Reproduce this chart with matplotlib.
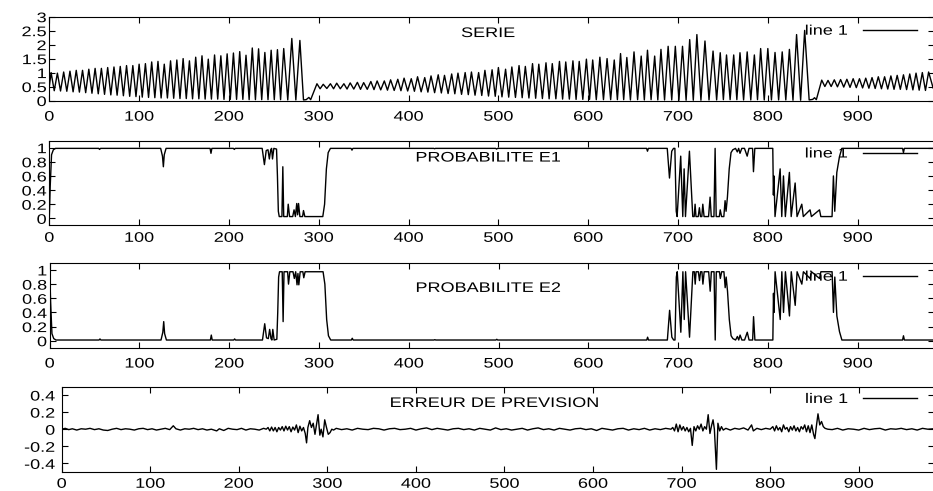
import numpy as np
import matplotlib
matplotlib.use("Agg")
import matplotlib.pyplot as plt
from matplotlib.patheffects import AbstractPathEffect
from matplotlib.transforms import Affine2D
from matplotlib.ticker import FormatStrFormatter

plt.rcParams["font.family"] = ["Liberation Sans", "DejaVu Sans"]
plt.rcParams["font.size"] = 10

# ---------------- SERIE (peaks / troughs) ----------------
serie_head = [(0, 0.5)]
a_peaks = [(2, 1.0), (9, 0.98), (16, 1.02), (23, 1.05), (30, 1.08), (37, 1.08), (44, 1.12), (51, 1.15),
           (58, 1.15), (65, 1.18), (72, 1.2), (79, 1.22), (86, 1.25), (93, 1.25), (100, 1.3), (107, 1.32),
           (114, 1.38), (121, 1.4), (128, 1.3), (135, 1.42), (142, 1.45), (149, 1.5), (156, 1.42), (163, 1.55),
           (170, 1.6), (177, 1.48), (184, 1.63), (191, 1.6), (198, 1.67), (205, 1.7), (212, 1.75), (219, 1.62),
           (226, 1.88), (233, 1.85), (240, 1.72), (247, 1.8), (254, 1.82), (261, 1.86), (270, 2.22), (279, 2.15)]
a_troughs = [0.35, 0.34, 0.33, 0.31, 0.3, 0.28, 0.26, 0.24, 0.22, 0.2,
             0.19, 0.17, 0.15, 0.14, 0.12, 0.11, 0.1, 0.09, 0.09, 0.08,
             0.07, 0.07, 0.06, 0.06, 0.05, 0.05, 0.05, 0.04, 0.04, 0.04,
             0.04, 0.03, 0.03, 0.03, 0.03, 0.03, 0.03, 0.02, 0.02]
a_tail = [(283, 0.02), (286, 0.03), (289, 0.11), (291, 0.03)]
b_peaks = [(298, 0.6), (305, 0.58), (313, 0.6), (320, 0.62), (328, 0.6), (335, 0.63), (343, 0.65), (350, 0.64),
           (358, 0.68), (365, 0.7), (373, 0.7), (380, 0.74), (388, 0.76), (395, 0.8), (403, 0.78), (410, 0.85),
           (418, 0.82), (425, 0.88), (433, 0.92), (440, 0.9), (448, 0.95), (455, 0.98), (463, 1.0), (470, 1.02),
           (478, 1.0), (485, 1.08), (493, 1.1), (500, 1.18), (508, 1.12), (515, 1.2), (523, 1.25), (530, 1.22),
           (538, 1.32), (545, 1.3), (553, 1.35), (560, 1.32), (568, 1.4), (575, 1.38), (583, 1.42), (590, 1.4),
           (598, 1.48), (605, 1.45), (613, 1.55), (621, 1.5),
           (629, 1.45), (636, 1.68), (643, 1.54), (651, 1.74), (659, 1.59), (666, 1.8), (674, 1.59), (681, 1.83),
           (689, 1.94), (697, 1.94), (705, 1.94), (713, 2.18), (721, 2.36), (730, 2.13), (739, 1.77), (747, 1.71),
           (754, 1.63), (762, 1.63), (769, 1.71), (777, 1.74), (785, 1.63), (792, 1.86), (800, 1.86), (808, 1.72),
           (816, 1.74), (824, 1.83), (832, 2.36), (841, 2.51)]
b_troughs = [0.42, 0.43, 0.42, 0.42, 0.41, 0.41, 0.4, 0.4, 0.39, 0.38,
             0.37, 0.36, 0.35, 0.34, 0.33, 0.31, 0.3, 0.28, 0.27, 0.25,
             0.24, 0.22, 0.21, 0.19, 0.18, 0.16, 0.15, 0.13, 0.12, 0.11,
             0.1, 0.09, 0.08, 0.07, 0.06, 0.06, 0.05, 0.05, 0.04, 0.04,
             0.04, 0.03, 0.03, 0.03,
             0.03, 0.03, 0.02, 0.03, 0.02, 0.03, 0.02, 0.02, 0.02, 0.01,
             0.01, 0.01, 0.01, 0.02, 0.02, 0.03, 0.03, 0.03, 0.02, 0.02,
             0.03, 0.02, 0.02, 0.02, 0.02, 0.01, 0.01]
b_tail = [(846, 0.02), (850, 0.04), (852, 0.1), (854, 0.03)]
c_peaks = [(860, 0.73), (867, 0.72), (874, 0.74), (881, 0.75), (888, 0.76), (895, 0.78), (902, 0.78),
           (909, 0.8), (916, 0.82), (923, 0.85), (930, 0.85), (937, 0.88), (944, 0.9), (951, 0.92),
           (958, 0.95), (965, 0.98), (972, 1.0), (979, 1.02)]
c_troughs = [0.5, 0.5, 0.49, 0.48, 0.47, 0.46, 0.45, 0.44, 0.43, 0.42, 0.41, 0.4, 0.4, 0.39, 0.38, 0.37, 0.36]
serie_end = [(984, 0.45)]

# ---------------- PROBABILITE E1 (breakpoints) ----------------
e1_pts = [(0, 0.0), (1, 0.45), (2.5, 0.9), (4.5, 0.97), (7, 0.99), (55, 0.99), (56, 0.975), (57, 0.99),
          (124, 0.99), (126, 0.88), (127, 0.73), (128, 0.9), (130, 0.99), (179, 0.99), (180, 0.92), (181, 0.99),
          (205, 0.99), (206, 0.975), (207, 0.99),
          (237, 0.99), (239.5, 0.76), (241.5, 0.96), (243.5, 0.97), (245, 0.84), (246.5, 0.97), (247.5, 0.99),
          (248.5, 0.84), (250, 0.99), (253, 0.98), (254, 0.6), (255, 0.1), (256, 0.025), (259, 0.025),
          (260, 0.73), (261, 0.025), (265, 0.025), (266, 0.2), (267.5, 0.025), (271, 0.025), (272.5, 0.12),
          (274, 0.025), (275.5, 0.21), (276.5, 0.05), (277.5, 0.21), (279, 0.025), (282, 0.025), (283, 0.11),
          (284.5, 0.025), (304.5, 0.025), (306.5, 0.2), (308.5, 0.7), (310.5, 0.93), (313, 0.99),
          (336, 0.99), (337, 0.965), (338, 0.99), (428, 0.99), (429, 0.985), (430, 0.99),
          (497, 0.99), (498, 0.98), (499, 0.99), (665, 0.99), (666, 0.95), (667, 0.99),
          (688, 0.99), (690.5, 0.57), (693, 0.95), (695, 0.99), (696.5, 0.99), (698, 0.1), (699, 0.025),
          (703, 0.88), (705.3, 0.025), (706.8, 0.7), (708.3, 0.025), (712.7, 0.95), (716.4, 0.025),
          (718, 0.025), (719, 0.2), (720, 0.025), (722.5, 0.025), (723.8, 0.15), (725, 0.025),
          (726.5, 0.025), (727.6, 0.2), (729, 0.025), (734, 0.025), (735.7, 0.3), (737, 0.025),
          (740, 0.025), (741.3, 0.99), (742.5, 0.025), (746, 0.025), (747, 0.12), (748.5, 0.025),
          (751, 0.025), (752.4, 0.25), (753.5, 0.1), (755, 0.3), (757, 0.7), (759, 0.93),
          (761, 0.97), (764, 0.99), (766, 0.94), (767.5, 0.99), (769, 0.92), (771, 0.99), (774, 0.99),
          (777, 0.88), (779, 0.99), (783, 0.99), (784, 0.66), (785.5, 0.99),
          (805.5, 0.99), (806.2, 0.33), (806.8, 0.6), (808, 0.025), (813.7, 0.7), (815.5, 0.025),
          (817.4, 0.6), (819.5, 0.025), (824, 0.65), (826, 0.025), (830.4, 0.5), (832.5, 0.025),
          (837.8, 0.2), (839.5, 0.025), (847, 0.12), (848.5, 0.025), (857.5, 0.12), (859, 0.025),
          (871.5, 0.025), (873, 0.6), (874.5, 0.1), (876.8, 0.65), (879.7, 0.87), (882.4, 0.99),
          (950, 0.99), (951, 0.93), (952, 0.99), (985, 0.99)]

# ---------------- ERREUR DE PREVISION ----------------
err_quiet_1 = [(0, 0.0), (4, 0.01), (8, -0.005), (12, 0.005), (17, -0.01), (22, 0.005), (27, 0.0), (32, 0.01),
               (37, -0.005), (42, 0.005), (47, -0.01), (52, -0.015), (57, 0.0), (62, 0.01), (67, -0.005),
               (72, 0.005), (77, 0.0), (82, -0.01), (87, 0.005), (92, 0.01), (97, -0.005), (102, 0.005),
               (107, -0.01), (112, 0.0), (117, 0.01), (122, -0.005), (126, 0.04), (129, 0.005), (134, -0.01),
               (139, 0.005), (144, 0.0), (149, 0.01), (154, -0.005), (159, 0.005), (164, -0.01), (169, 0.0),
               (175, -0.02), (178, 0.005), (183, -0.015), (188, 0.01), (193, 0.0), (198, -0.005), (203, 0.01),
               (208, -0.01), (213, 0.005), (218, 0.0), (223, -0.01), (228, 0.01)]
err_burst_1 = [(231, 0.0), (233, 0.02), (235, -0.02), (237, 0.025), (239, -0.02), (241, 0.02), (243, -0.03),
               (245, 0.02), (247, -0.01), (249, 0.03), (251, -0.02), (253, 0.035), (255, -0.01), (257, 0.03),
               (259, -0.03), (261, 0.025), (263, -0.01), (265, 0.05), (267, -0.04), (269, 0.035), (271, -0.02),
               (273, 0.02), (275, -0.05), (276.5, -0.16), (278, 0.02), (280, 0.1), (282, 0.02), (284, 0.07),
               (286, -0.06), (289.5, 0.17), (291.5, -0.07), (293, 0.0), (295, -0.09), (297, 0.11), (299, 0.02),
               (301, -0.06), (303, -0.04), (305, 0.0), (307, -0.01)]
err_quiet_2 = [(310, 0.01), (316, -0.005), (322, 0.005), (328, -0.01), (334, 0.01), (340, 0.0), (346, -0.005),
               (352, 0.01), (358, 0.005), (364, -0.01), (370, 0.005), (376, 0.01), (382, -0.005), (388, 0.0),
               (394, 0.01), (400, -0.01), (406, 0.005), (412, 0.015), (418, -0.005), (424, 0.01), (430, 0.0),
               (436, -0.01), (442, 0.005), (448, 0.01), (454, -0.005), (460, 0.005), (466, -0.01), (472, 0.01),
               (478, 0.0), (484, -0.01), (490, 0.015), (496, -0.005), (502, 0.005), (508, -0.01), (514, 0.0),
               (520, 0.01), (526, -0.01), (532, 0.005), (538, 0.015), (544, -0.005), (550, 0.005), (556, -0.01),
               (562, 0.01), (568, 0.0), (574, -0.01), (580, 0.005), (586, 0.01), (592, -0.005), (598, 0.005),
               (604, -0.015), (610, 0.01), (616, 0.0), (622, -0.01), (628, 0.005), (634, 0.01), (640, -0.01),
               (646, 0.005), (652, -0.005), (658, 0.01), (664, -0.01), (670, 0.005), (676, -0.005), (682, 0.01)]
err_burst_2 = [(688, 0.0), (690, 0.02), (692, -0.02), (694, 0.06), (696, -0.03), (698, 0.05), (700, -0.01),
               (702, 0.03), (704, -0.02), (706, 0.02), (708, -0.03), (710, 0.01), (712, -0.19), (714, 0.03),
               (716, -0.02), (718, 0.04), (720, 0.0), (722, 0.06), (724, -0.02), (726, 0.03), (728, 0.0),
               (730, 0.17), (732, -0.05), (734, 0.05), (735.5, 0.11), (737, 0.0), (739.3, -0.47), (741, 0.07),
               (743, -0.02), (745, 0.03), (747, -0.01), (750, 0.01)]
err_quiet_3 = [(755, -0.01), (760, 0.01), (765, 0.0), (770, 0.015), (775, -0.01), (779, 0.05), (781, -0.02),
               (785, 0.01), (790, -0.005), (795, 0.01)]
err_burst_3 = [(800, 0.0), (803, 0.03), (805, -0.02), (807, 0.04), (809, -0.01), (811, 0.02), (813, -0.03),
               (815, 0.05), (817, 0.0), (819, 0.02), (821, -0.03), (823, 0.03), (825, -0.01), (827, 0.04),
               (829, -0.02), (831, 0.02), (833, -0.03), (835, 0.03), (837, 0.0), (839, 0.05), (841, -0.03),
               (843, 0.04), (845, -0.04), (847, 0.05), (849, -0.06), (850.5, -0.11), (852, 0.02), (854, 0.18),
               (856, 0.05), (858, 0.09), (860, 0.03), (862, 0.01), (865, 0.0)]
err_quiet_4 = [(870, -0.005), (876, 0.01), (882, -0.01), (888, 0.005), (894, 0.0), (900, -0.01), (906, 0.01),
               (912, -0.005), (918, 0.005), (924, 0.01), (930, -0.01), (936, 0.005), (942, 0.0), (948, 0.01),
               (954, -0.005), (960, 0.005), (966, -0.01), (972, 0.01), (978, 0.0), (985, 0.005)]

x_ticks = [0, 100, 200, 300, 400, 500, 600, 700, 800, 900]
serie_ticks = [0, 0.5, 1, 1.5, 2, 2.5, 3]
prob_ticks = [0, 0.2, 0.4, 0.6, 0.8, 1]
err_ticks = [-0.4, -0.2, 0, 0.2, 0.4]
x_max = 985


def zigzag(peaks, troughs):
    assert len(troughs) == len(peaks) - 1
    px = np.array([p[0] for p in peaks], float)
    py = np.array([p[1] for p in peaks], float)
    x = np.empty(2 * len(px) - 1)
    y = np.empty_like(x)
    x[0::2], y[0::2] = px, py
    x[1::2], y[1::2] = (px[:-1] + px[1:]) / 2, troughs
    return list(zip(x, y))


def xy(pts):
    a = np.array(pts, float)
    return a[:, 0], a[:, 1]


serie_x, serie_y = xy(serie_head + zigzag(a_peaks, a_troughs) + a_tail
                      + zigzag(b_peaks, b_troughs) + b_tail
                      + zigzag(c_peaks, c_troughs) + serie_end)
e1_x, e1_y = xy(e1_pts)
e2_x, e2_y = e1_x, 1.0 - e1_y          # two-state model: P(E2) is the complement of P(E1)
err_x, err_y = xy(err_quiet_1 + err_burst_1 + err_quiet_2 + err_burst_2
                  + err_quiet_3 + err_burst_3 + err_quiet_4)


class Widen(AbstractPathEffect):
    """gnuplot's font comes out wide; stretch glyphs horizontally about an anchor."""
    def __init__(self, sx=1.3, anchor=0.5):
        super().__init__()
        self.sx, self.anchor = sx, anchor

    def draw_path(self, renderer, gc, tpath, affine, rgbFace=None):
        ext = tpath.get_extents(affine)
        cx = ext.x0 + self.anchor * ext.width
        aff = affine + Affine2D().translate(-cx, 0).scale(self.sx, 1).translate(cx, 0)
        renderer.draw_path(gc, tpath, aff, rgbFace)


W, H = 933, 491
SX = 1.3


def box(left, right, top, bottom):
    return [left / W, 1 - bottom / H, (right - left) / W, (bottom - top) / H]


fig = plt.figure(figsize=(W / 100, H / 100), dpi=100, facecolor="white")

panels = [
    dict(rect=box(49.3, 934, 16.7, 100.5), x=serie_x, y=serie_y, ylim=(0, 3), yt=serie_ticks,
         title="SERIE", ty=0.805, ly=0.833, xpad=6.6, ypad=2.0),
    dict(rect=box(49.3, 934, 140.6, 225.4), x=e1_x, y=e1_y, ylim=(-0.1, 1.1), yt=prob_ticks,
         title="PROBABILITE E1", ty=0.80, ly=0.848, xpad=3.9, ypad=2.0),
    dict(rect=box(49.7, 934, 262.9, 347.8), x=e2_x, y=e2_y, ylim=(-0.1, 1.1), yt=prob_ticks,
         title="PROBABILITE E2", ty=0.705, ly=0.838, xpad=6.3, ypad=2.0),
    dict(rect=box(61.7, 934, 386.5, 471.9), x=err_x, y=err_y, ylim=(-0.5, 0.5), yt=err_ticks,
         title="ERREUR DE PREVISION", ty=0.807, ly=0.854, xpad=3.5, ypad=4.8),
]

for p in panels:
    ax = fig.add_axes(p["rect"])
    line, = ax.plot(p["x"], p["y"], color="black", lw=1.0)
    ax.set_xlim(0, x_max)
    ax.set_ylim(*p["ylim"])
    ax.set_xticks(x_ticks)
    ax.set_yticks(p["yt"])
    ax.yaxis.set_major_formatter(FormatStrFormatter("%g"))
    for sp in ax.spines.values():
        sp.set_linewidth(0.8)
    ax.tick_params(direction="in", length=4.5, width=0.8, top=True, right=True,
                   labelsize=10, colors="black")
    ax.tick_params(axis="x", pad=p["xpad"])
    ax.tick_params(axis="y", pad=p["ypad"])
    for t in ax.get_xticklabels():
        t.set_path_effects([Widen(SX, 0.5)])
    for t in ax.get_yticklabels():
        t.set_path_effects([Widen(SX, 1.0)])
    tt = ax.text(0.496, p["ty"], p["title"], transform=ax.transAxes,
                 ha="center", va="center", fontsize=10)
    tt.set_path_effects([Widen(SX, 0.5)])
    leg = ax.legend([line], ["line 1"], loc="center right", bbox_to_anchor=(0.981, p["ly"]),
                    frameon=False, markerfirst=False, handlelength=3.9, handletextpad=1.1,
                    borderpad=0, borderaxespad=0, fontsize=10)
    for t in leg.get_texts():
        t.set_path_effects([Widen(SX, 1.0)])

fig.savefig("out.png", dpi=100, facecolor="white")
